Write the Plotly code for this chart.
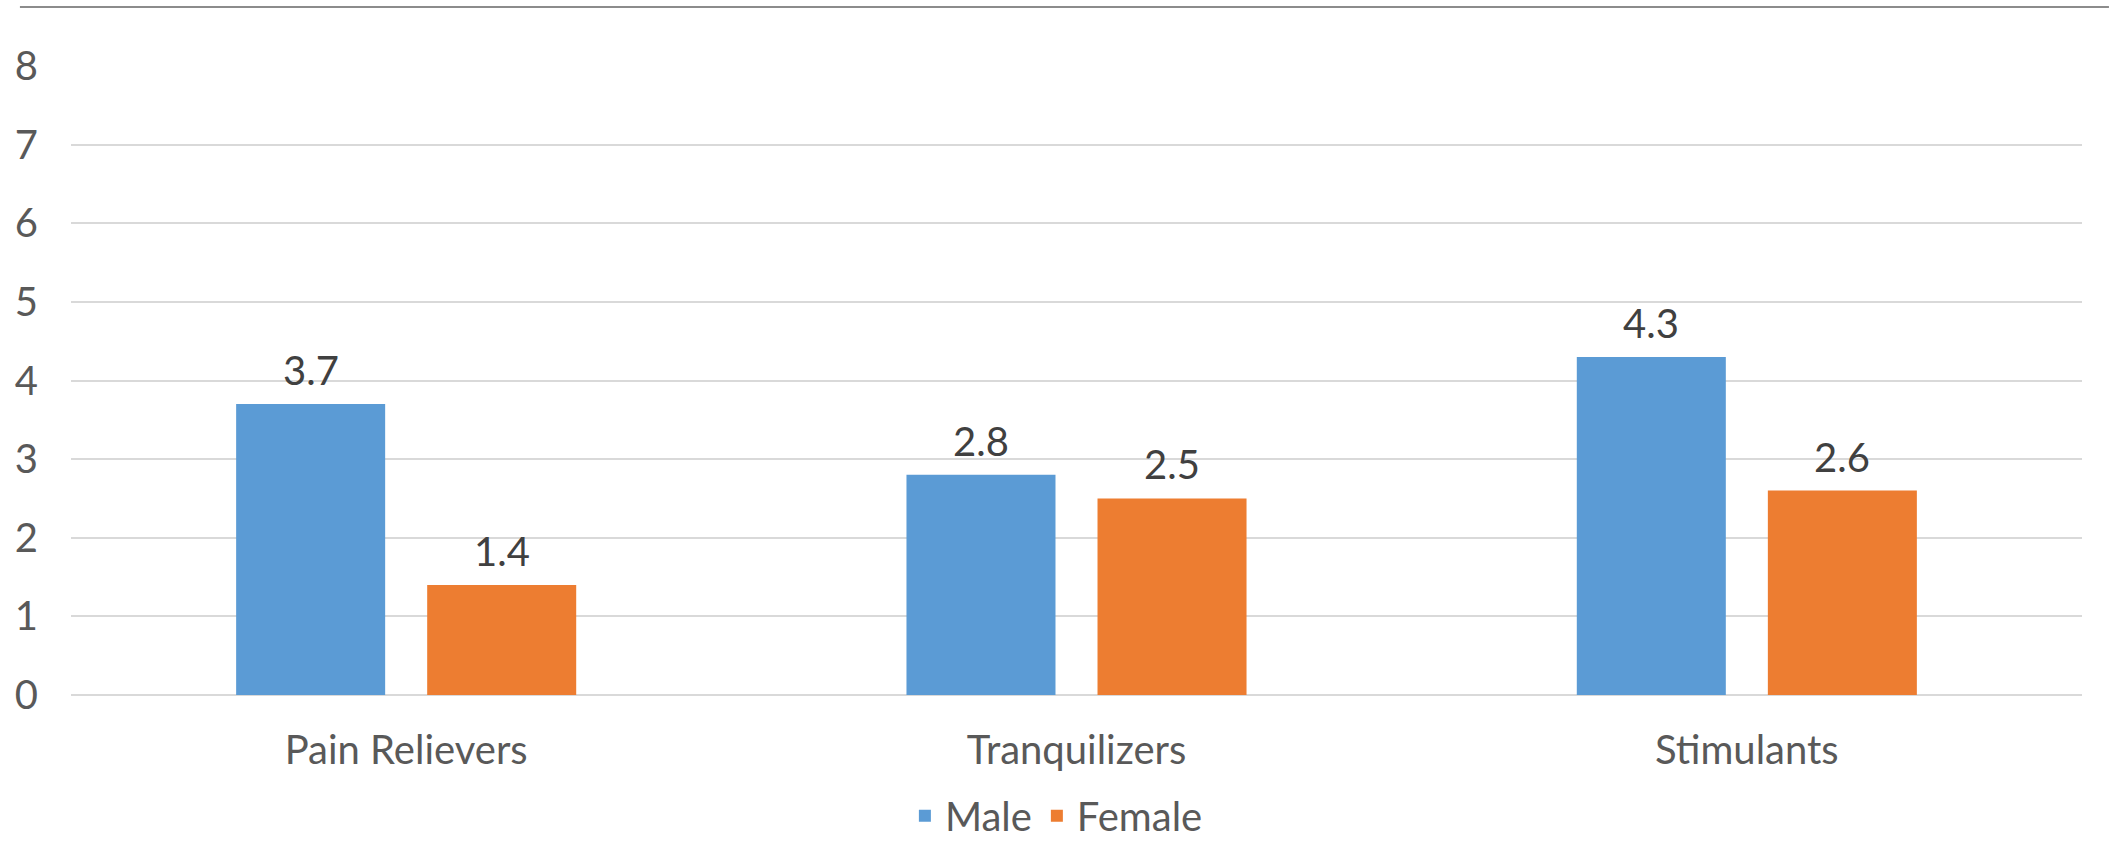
import plotly.graph_objects as go

categories = ["Pain Relievers", "Tranquilizers", "Stimulants"]
male = [3.7, 2.8, 4.3]
female = [1.4, 2.5, 2.6]
y_ticks = [0, 1, 2, 3, 4, 5, 6, 7, 8]

BLUE = "#5B9BD5"
ORANGE = "#ED7D31"
FONT = "Lato"
FS = 40
BARGAP = 0.43

fig = go.Figure()
fig.add_trace(go.Bar(name="Male", x=categories, y=male,
                     marker=dict(color=BLUE, line=dict(width=0))))
fig.add_trace(go.Bar(name="Female", x=categories, y=female,
                     marker=dict(color=ORANGE, line=dict(width=0))))

# data labels placed over each bar's centre (derived from the group layout)
half = (1 - BARGAP) / 4
annotations = []
for i, (m, f) in enumerate(zip(male, female)):
    for off, v in ((-half, m), (half, f)):
        annotations.append(dict(x=i + off, y=v, xref="x", yref="y", text=f"{v:.1f}",
                                showarrow=False, yanchor="bottom", yshift=8,
                                font=dict(family=FONT, size=FS, color="#404040")))

fig.update_layout(
    width=2109, height=842,
    margin=dict(l=71, r=27, t=66, b=147, autoexpand=False),
    paper_bgcolor="white", plot_bgcolor="white",
    barmode="group", bargap=BARGAP, bargroupgap=0.22,
    font=dict(family=FONT, size=FS, color="#595959"),
    showlegend=True,
    legend=dict(orientation="h", x=0.49, xanchor="center", y=-0.192, yanchor="middle",
                font=dict(family=FONT, size=FS, color="#595959"),
                traceorder="normal", itemwidth=30, tracegroupgap=0,
                bgcolor="rgba(0,0,0,0)"),
    xaxis=dict(showgrid=False, showline=False, ticks="", ticklabelstandoff=28, automargin=False,
               tickfont=dict(family=FONT, size=FS, color="#595959")),
    yaxis=dict(range=[0, 8], tickvals=y_ticks, showgrid=True, gridcolor="#D9D9D9", gridwidth=2,
               zeroline=True, zerolinecolor="#D9D9D9", zerolinewidth=2, showline=False,
               ticks="", ticklabelstandoff=32, automargin=False,
               tickfont=dict(family=FONT, size=FS, color="#595959")),
    annotations=annotations,
    shapes=[dict(type="line", xref="paper", yref="paper",
                 x0=-0.0254, x1=1.0134, y0=1.0938, y1=1.0938,
                 line=dict(color="#8C8C8C", width=2))],
)

fig.write_html("out.html", config={"displayModeBar": False},
               post_script="document.body.style.margin='0';document.body.style.overflow='hidden';")
